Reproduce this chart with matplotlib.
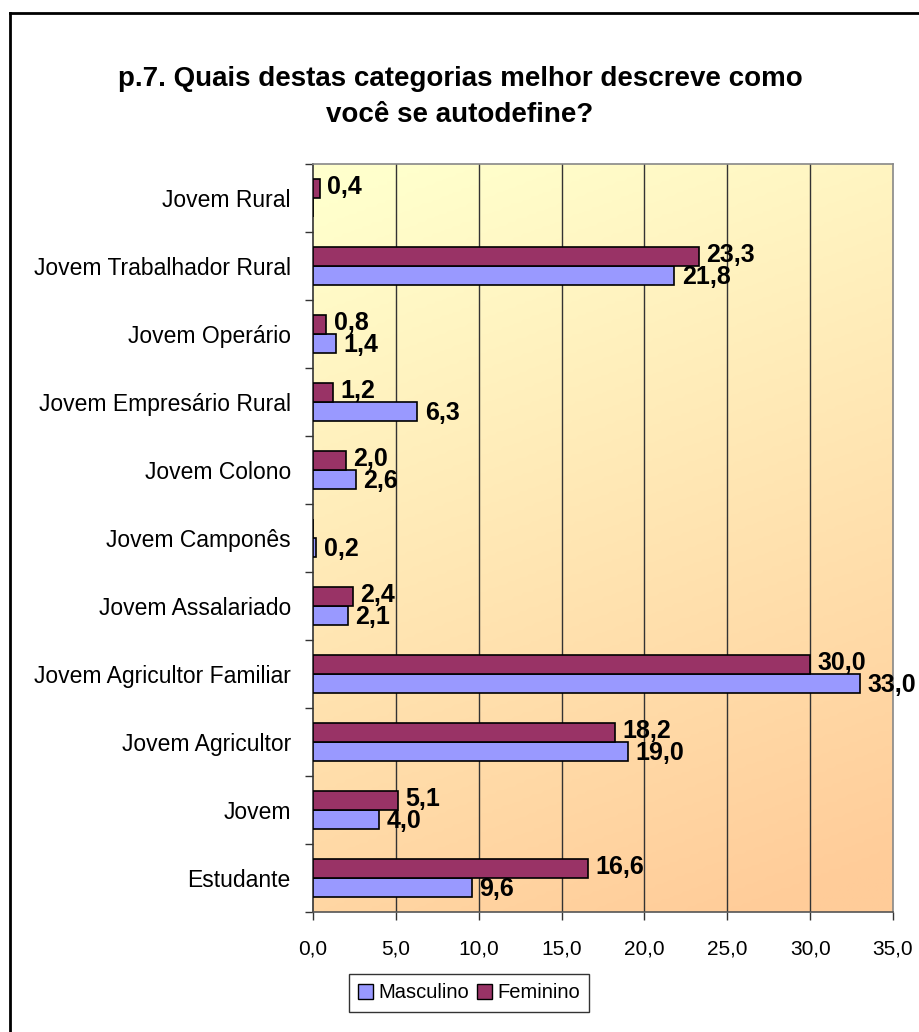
import numpy as np
import matplotlib
matplotlib.use("Agg")
import matplotlib.pyplot as plt
from matplotlib.colors import LinearSegmentedColormap
from matplotlib.patches import Rectangle
from matplotlib.lines import Line2D

plt.rcParams['font.family'] = ['Liberation Sans', 'DejaVu Sans']

categories = ["Estudante", "Jovem", "Jovem Agricultor", "Jovem Agricultor Familiar",
              "Jovem Assalariado", "Jovem Camponês", "Jovem Colono",
              "Jovem Empresário Rural", "Jovem Operário", "Jovem Trabalhador Rural",
              "Jovem Rural"]
masculino = [9.6, 4.0, 19.0, 33.0, 2.1, 0.2, 2.6, 6.3, 1.4, 21.8, 0.0]
feminino = [16.6, 5.1, 18.2, 30.0, 2.4, 0.0, 2.0, 1.2, 0.8, 23.3, 0.4]
xticks = [0, 5, 10, 15, 20, 25, 30, 35]
title = "p.7. Quais destas categorias melhor descreve como\nvocê se autodefine?"

col_m = "#9999FF"
col_f = "#993366"

fig = plt.figure(figsize=(9.2, 10.32), dpi=100)
ax = fig.add_axes([313/920, 1-912/1032, 580/920, 748/1032])

n = len(categories)
y = np.arange(n)
h = 0.28
ax.set_xlim(0, 35)
ax.set_ylim(-0.5, n-0.5)

# gradient background (light yellow top-left -> peach bottom-right)
gx, gy = np.meshgrid(np.linspace(0, 1, 200), np.linspace(0, 1, 200))
t = np.clip(0.85*(1-gy) + 0.25*gx - 0.05, 0, 1)
cmap = LinearSegmentedColormap.from_list("g", ["#FFFFCC", "#FFCC99"])
ax.imshow(t, cmap=cmap, extent=[0, 35, -0.5, n-0.5], aspect='auto', origin='lower',
          zorder=0, vmin=0, vmax=1)

for xv in xticks[1:-1]:
    ax.axvline(xv, color="#333333", lw=1.0, zorder=1)

ax.barh(y - h/2, masculino, height=h, color=col_m, edgecolor="black", lw=1.2, zorder=3,
        label="Masculino")
ax.barh(y + h/2, feminino, height=h, color=col_f, edgecolor="black", lw=1.2, zorder=3,
        label="Feminino")

def fmt(v):
    return f"{v:.1f}".replace(".", ",")

for i in range(n):
    if masculino[i] > 0:
        ax.text(masculino[i] + 0.45, y[i] - h/2 - 0.02, fmt(masculino[i]), va='center', ha='left',
                fontsize=18, fontweight='bold', zorder=5)
    if feminino[i] > 0:
        ax.text(feminino[i] + 0.45, y[i] + h/2 + 0.02, fmt(feminino[i]), va='center', ha='left',
                fontsize=18, fontweight='bold', zorder=5)

ax.set_yticks(y)
ax.set_yticklabels(categories, fontsize=16.5)
ax.set_yticks(np.arange(-0.5, n, 1), minor=True)
ax.tick_params(axis='y', which='major', length=0, pad=16)
ax.tick_params(axis='y', which='minor', length=6, width=1, color="#333333")
ax.set_xticks(xticks)
ax.set_xticklabels([fmt(v) for v in xticks], fontsize=15)
ax.tick_params(axis='x', length=6, width=1, color="#333333", pad=14)

for s in ['top', 'right']:
    ax.spines[s].set_color("#888888")
    ax.spines[s].set_linewidth(1.2)
ax.spines['left'].set_color("#333333")
ax.spines['bottom'].set_color("#555555")
ax.spines['left'].set_linewidth(1.2)
ax.spines['bottom'].set_linewidth(1.2)

fig.text(460/920, 1-97/1032, title, ha='center', va='center', fontsize=20,
         fontweight='bold', linespacing=1.45)

handles = [Rectangle((0, 0), 1, 1, facecolor=col_m, edgecolor='black'),
           Rectangle((0, 0), 1, 1, facecolor=col_f, edgecolor='black')]
leg = fig.legend(handles, ["Masculino", "Feminino"], loc='center',
                 bbox_to_anchor=(469/920, 1-993/1032), ncol=2, frameon=True,
                 fancybox=False, edgecolor='black', fontsize=14.5, handlelength=0.75,
                 handleheight=0.75, handletextpad=0.25, columnspacing=0.4,
                 borderpad=0.45, borderaxespad=0)
leg.get_frame().set_linewidth(1.0)

# outer frame (left and top visible)
fig.add_artist(Line2D([10/920, 10/920], [0, 1-13/1032], color='black', lw=2,
                      transform=fig.transFigure))
fig.add_artist(Line2D([10/920, 1], [1-13/1032, 1-13/1032], color='black', lw=2,
                      transform=fig.transFigure))

fig.savefig("out.png", dpi=100)
